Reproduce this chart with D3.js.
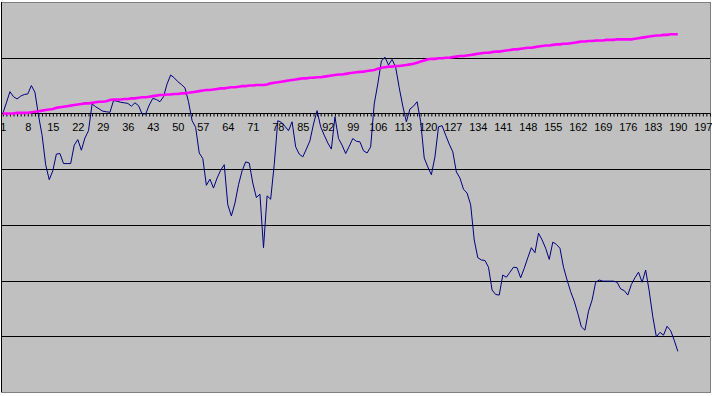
<!DOCTYPE html>
<html>
<head>
<meta charset="utf-8">
<script src="https://cdn.jsdelivr.net/npm/d3@7"></script>
<style>
  html, body { margin: 0; padding: 0; background: #ffffff; }
  svg { display: block; }
</style>
</head>
<body>
<svg id="chart" width="712" height="396"></svg>
<script>
// ---- data ----
const seriesBlue = [
  0, 1.9, 3.9, 3.0, 2.6, 3.1, 3.4, 3.5, 5.0, 3.8,
  -0.4, -3.9, -9.2, -11.9, -10.3, -7.3, -7.2, -9.0, -9.0, -9.0,
  -5.7, -4.7, -6.6, -4.4, -3.1, 1.7, 1.2, 0.8, 0.4, 0.3,
  0.2, 2.3, 2.2, 2.0, 1.9, 1.8, 1.3, 1.9, 1.4, -0.1,
  -0.1, 1.5, 2.7, 2.5, 2.1, 3.0, 5.3, 6.9, 6.4, 5.7,
  5.2, 4.6, 2.1, -1.3, -2.5, -7.1, -8.1, -12.9, -11.8, -13.4,
  -11.6, -10.2, -9.2, -16.4, -18.4, -16.1, -12.8, -10.3, -8.7, -8.9,
  -12.5, -15.1, -14.5, -24.1, -14.8, -15.4, -9.2, -1.3, -1.6, -2.3,
  -3.1, -1.5, -6.0, -7.3, -7.8, -6.4, -4.9, -1.9, 0.5, -2.4,
  -3.9, -5.3, -6.4, -0.6, -4.5, -5.7, -7.2, -5.9, -4.5, -5.0,
  -5.1, -6.7, -7.1, -6.0, 1.7, 5.3, 9.4, 10.1, 8.7, 9.7,
  8.3, 4.6, 1.3, -1.5, 0.8, 1.3, 2.1, -1.5, -8.0, -9.6,
  -11.0, -7.8, -2.4, -2.2, -3.9, -5.5, -6.9, -10.5, -11.6, -13.6,
  -14.3, -16.4, -22.7, -25.9, -26.3, -26.4, -27.6, -31.7, -32.5, -32.6,
  -29.0, -29.4, -28.5, -27.6, -27.7, -29.5, -27.8, -25.9, -24.1, -25.0,
  -21.5, -22.7, -24.2, -26.2, -23.1, -23.5, -24.2, -27.6, -29.9, -32.0,
  -33.7, -35.9, -38.3, -38.9, -35.5, -33.5, -30.3, -29.9, -30.1, -30.1,
  -30.1, -30.1, -30.3, -31.5, -31.8, -32.6, -30.7, -29.5, -28.5, -30.3,
  -28.1, -31.9, -36.5, -40.1, -39.3, -39.8, -38.2, -39.0, -40.7, -42.7
];
const seriesMagenta = [
  0, 0, 0, 0, 0.1, 0.1, 0.1, 0.1, 0.2, 0.3,
  0.4, 0.5, 0.6, 0.7, 0.8, 1.0, 1.1, 1.2, 1.3, 1.4,
  1.5, 1.6, 1.7, 1.8, 1.8, 1.9, 2.0, 2.1, 2.1, 2.2,
  2.4, 2.5, 2.5, 2.5, 2.6, 2.6, 2.7, 2.7, 2.8, 2.9,
  2.9, 3.0, 3.1, 3.2, 3.3, 3.3, 3.4, 3.4, 3.5, 3.5,
  3.6, 3.6, 3.7, 3.8, 3.9, 4.0, 4.1, 4.2, 4.2, 4.3,
  4.4, 4.5, 4.5, 4.6, 4.7, 4.7, 4.8, 4.9, 4.9, 5.0,
  5.0, 5.1, 5.1, 5.1, 5.2, 5.4, 5.5, 5.6, 5.7, 5.8,
  5.9, 6.0, 6.1, 6.2, 6.3, 6.3, 6.4, 6.4, 6.5, 6.5,
  6.6, 6.7, 6.8, 6.9, 7.0, 7.0, 7.1, 7.2, 7.3, 7.4,
  7.45, 7.5, 7.6, 7.7, 7.8, 8.0, 8.2, 8.3, 8.4, 8.4,
  8.5, 8.5, 8.6, 8.7, 8.8, 8.9, 9.1, 9.3, 9.5, 9.7,
  9.8, 9.8, 9.9, 9.9, 10.0, 10.0, 10.1, 10.2, 10.3, 10.3,
  10.4, 10.5, 10.6, 10.7, 10.8, 10.9, 10.9, 11.0, 11.1, 11.1,
  11.2, 11.3, 11.4, 11.5, 11.5, 11.6, 11.7, 11.8, 11.8, 11.9,
  12.0, 12.1, 12.2, 12.2, 12.3, 12.4, 12.4, 12.5, 12.5, 12.6,
  12.7, 12.8, 12.9, 12.9, 13.0, 13.0, 13.1, 13.1, 13.1, 13.2,
  13.2, 13.2, 13.3, 13.3, 13.3, 13.3, 13.3, 13.4, 13.5, 13.6,
  13.7, 13.8, 13.9, 14.0, 14.0, 14.1, 14.1, 14.2, 14.2, 14.2
];
const categories = seriesBlue.map((d, i) => i + 1);
const tickLabels = [1, 8, 15, 22, 29, 36, 43, 50, 57, 64, 71, 78, 85, 92, 99, 106, 113, 120, 127, 134, 141, 148, 155, 162, 169, 176, 183, 190, 197];
const gridValues = [10, -10, -20, -30, -40];
const axisMax = 199;

// ---- layout ----
const svg = d3.select("#chart");
const plot = { left: 1, top: 2, right: 710, bottom: 392 };

const x = d3.scaleLinear().domain([1, 190]).range([2.8, 677.8]);
const y = d3.scaleLinear().domain([-50, 20]).range([plot.bottom, plot.top]);

// plot area
svg.append("rect")
  .attr("x", plot.left + 0.5).attr("y", plot.top + 0.5)
  .attr("width", plot.right - plot.left).attr("height", plot.bottom - plot.top)
  .attr("fill", "#c0c0c0").attr("stroke", "#808080").attr("stroke-width", 1);

// gridlines
svg.append("g").selectAll("line").data(gridValues).join("line")
  .attr("x1", plot.left).attr("x2", plot.right)
  .attr("y1", d => Math.round(y(d)) + 0.5).attr("y2", d => Math.round(y(d)) + 0.5)
  .attr("stroke", "#000").attr("stroke-width", 1);

// value axis line (left)
svg.append("line")
  .attr("x1", plot.left + 0.5).attr("x2", plot.left + 0.5)
  .attr("y1", plot.top).attr("y2", plot.bottom)
  .attr("stroke", "#000");

// category axis at 0
const allTicks = d3.range(1, axisMax + 1).filter(v => x(v) <= plot.right);
const xAxis = d3.axisBottom(x)
  .tickValues(allTicks)
  .tickSize(3)
  .tickSizeOuter(0)
  .tickFormat(d => tickLabels.includes(d) ? String(d) : "");
const gx = svg.append("g")
  .attr("transform", `translate(0,${Math.round(y(0)) + 0.5})`)
  .call(xAxis);
gx.select(".domain").attr("d", `M${plot.left},0H${plot.right}`).attr("stroke", "#000");
gx.selectAll(".tick line").attr("stroke", "#000");
gx.selectAll(".tick text")
  .attr("font-family", "Arial, 'Liberation Sans', sans-serif")
  .attr("font-size", "11px")
  .attr("fill", "#000")
  .attr("y", 10);

// lines
const lineGen = d3.line().x((d, i) => x(categories[i])).y(d => y(d));
svg.append("path").datum(seriesBlue)
  .attr("d", lineGen).attr("fill", "none")
  .attr("stroke", "#000080").attr("stroke-width", 1);
svg.append("path").datum(seriesMagenta)
  .attr("d", lineGen).attr("fill", "none")
  .attr("stroke", "#ff00ff").attr("stroke-width", 2.6);
</script>
</body>
</html>
